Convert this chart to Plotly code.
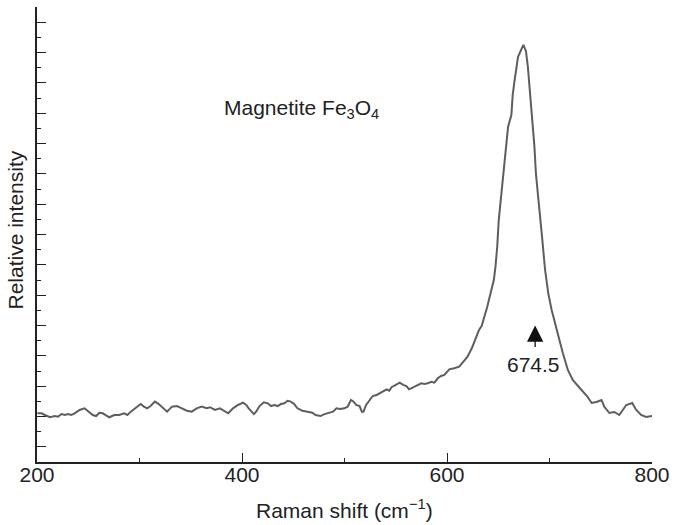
import plotly.graph_objects as go

# Raman spectrum of magnetite (Fe3O4): wavenumber (cm^-1) and relative intensity
raman_shift = [
    200.3, 204.5, 207.7, 212.6, 217.4, 220.6, 223.9, 227.1, 230.2, 233.5,
    236.7, 241.5, 246.4, 249.6, 254.4, 257.7, 260.9, 264.1, 267.3, 270.5,
    275.4, 280.2, 285.0, 288.2, 291.5, 296.3, 301.2, 304.3, 307.5, 310.8,
    315.0, 318.8, 323.7, 326.9, 331.7, 336.5, 341.4, 346.2, 351.0, 355.8,
    360.7, 365.5, 368.8, 373.6, 378.5, 383.3, 386.5, 391.3, 396.1, 401.0,
    404.2, 406.5, 409.0, 411.6, 413.8, 417.1, 421.3, 425.1, 428.3, 431.6,
    434.8, 438.0, 441.3, 444.4, 447.6, 450.9, 454.1, 458.9, 463.8, 468.6,
    471.8, 476.6, 480.5, 484.7, 488.9, 492.1, 495.9, 499.8, 503.1, 506.3,
    508.9, 511.4, 514.7, 516.9, 518.5, 521.1, 524.3, 527.5, 531.4, 534.6,
    537.9, 541.1, 543.7, 545.9, 550.0, 553.9, 557.2, 560.4, 563.0, 566.9,
    570.7, 574.9, 578.1, 581.3, 584.5, 587.7, 591.0, 594.2, 597.4, 599.7,
    602.2, 607.0, 611.9, 615.2, 620.0, 624.2, 628.0, 631.2, 633.8, 636.0,
    639.3, 642.5, 645.7, 647.3, 649.0, 650.5, 655.4, 657.7, 659.6, 662.8,
    664.1, 666.0, 669.3, 674.5, 677.0, 678.9, 681.2, 683.4, 685.3, 686.7,
    692.5, 693.0, 695.7, 698.8, 702.1, 706.9, 711.1, 713.0, 717.9, 722.7,
    729.5, 737.2, 741.1, 745.9, 750.7, 753.6, 758.4, 763.3, 768.1, 774.9,
    780.7, 784.6, 789.4, 794.2, 800.0,
]
intensity = [
    3.21, 3.21, 3.10, 2.95, 3.03, 2.99, 3.16, 3.10, 3.16, 3.10,
    3.21, 3.43, 3.54, 3.38, 3.10, 3.03, 3.25, 3.21, 3.10, 2.95,
    3.10, 3.10, 3.21, 3.10, 3.32, 3.54, 3.82, 3.65, 3.54, 3.69,
    3.98, 3.82, 3.54, 3.32, 3.65, 3.69, 3.54, 3.38, 3.32, 3.54,
    3.65, 3.54, 3.61, 3.43, 3.54, 3.32, 3.21, 3.54, 3.76, 3.91,
    3.76, 3.54, 3.38, 3.16, 3.32, 3.69, 3.94, 3.87, 3.69, 3.76,
    3.69, 3.82, 3.87, 4.04, 3.98, 3.82, 3.54, 3.38, 3.32, 3.25,
    3.10, 3.03, 3.16, 3.25, 3.32, 3.54, 3.49, 3.54, 3.65, 4.09,
    3.98, 3.76, 3.69, 3.32, 3.32, 3.76, 4.04, 4.35, 4.42, 4.53,
    4.64, 4.79, 4.70, 4.93, 5.08, 5.23, 5.08, 5.01, 4.79, 4.93,
    5.08, 5.19, 5.14, 5.19, 5.29, 5.23, 5.52, 5.67, 5.74, 5.89,
    6.11, 6.18, 6.28, 6.55, 6.94, 7.50, 8.09, 8.70, 8.97, 9.47,
    10.24, 11.12, 12.00, 12.88, 14.20, 15.96, 19.25, 20.79, 22.11, 22.88,
    24.20, 25.19, 26.72, 27.50, 27.10, 26.06, 24.09, 22.55, 20.79, 19.05,
    15.30, 14.64, 12.66, 11.12, 10.02, 8.70, 7.60, 7.19, 6.07, 5.41,
    4.88, 4.29, 3.89, 3.96, 4.09, 3.63, 3.23, 3.30, 3.10, 3.76,
    3.89, 3.43, 3.10, 2.97, 3.03,
]

x_ticks = [200, 400, 600, 800]
peak_position = 674.5

font_family = "Liberation Sans, Arial, sans-serif"
ink = "#222222"
font_size = 21

fig = go.Figure()
fig.add_trace(go.Scatter(
    x=raman_shift, y=intensity, mode="lines",
    line=dict(color="#5e5e5e", width=2),
    hoverinfo="skip", showlegend=False,
))

fig.update_layout(
    width=677, height=525,
    margin=dict(l=37, r=19, t=7, b=63),
    paper_bgcolor="white", plot_bgcolor="white",
    font=dict(family=font_family, size=font_size, color=ink),
    xaxis=dict(
        range=[200, 800], showgrid=False, zeroline=False,
        showline=True, linecolor=ink, linewidth=1.5,
        tickmode="array", tickvals=x_ticks, ticktext=[str(v) for v in x_ticks],
        ticks="inside", ticklen=9, tickwidth=1.3, tickcolor=ink,
        ticklabelstandoff=-7,
        minor=dict(dtick=100, tick0=200, ticks="inside", ticklen=4,
                   tickwidth=1.3, tickcolor=ink, showgrid=False),
        tickfont=dict(size=font_size, color=ink),
    ),
    yaxis=dict(
        range=[0, 30], showgrid=False, zeroline=False,
        showline=True, linecolor=ink, linewidth=1.5,
        tick0=1, dtick=2, ticks="inside", ticklen=9, tickwidth=1.3,
        tickcolor=ink, showticklabels=False,
        minor=dict(dtick=1, tick0=0, ticks="inside", ticklen=4,
                   tickwidth=1.3, tickcolor=ink, showgrid=False),
    ),
)

# axis titles
fig.add_annotation(
    text="Raman shift (cm<sup>\u22121</sup>)", xref="paper", yref="paper",
    x=0.5, y=0, xanchor="center", yanchor="middle", yshift=-47,
    showarrow=False, font=dict(size=font_size, color=ink),
)
fig.add_annotation(
    text="Relative intensity", xref="paper", yref="paper",
    x=0, y=0.5, xanchor="center", yanchor="middle", xshift=-22, yshift=4,
    textangle=-90, showarrow=False, font=dict(size=font_size, color=ink),
)

# sample label
fig.add_annotation(
    text="Magnetite Fe<sub>3</sub>O<sub>4</sub>", xref="x", yref="y",
    x=458, y=23.3, xanchor="center", yanchor="middle",
    showarrow=False, font=dict(size=font_size, color=ink),
)

# peak marker arrow and value
fig.add_annotation(
    text="", xref="x", yref="y", x=686, y=9.0,
    ax=0, ay=23, showarrow=True,
    arrowhead=2, arrowsize=2.5, arrowwidth=1.3, arrowcolor="#111111",
)
fig.add_annotation(
    text=f"{peak_position}", xref="x", yref="y", x=684.5, y=6.4,
    xanchor="center", yanchor="middle",
    showarrow=False, font=dict(size=font_size, color=ink),
)

fig.write_html("out.html")
